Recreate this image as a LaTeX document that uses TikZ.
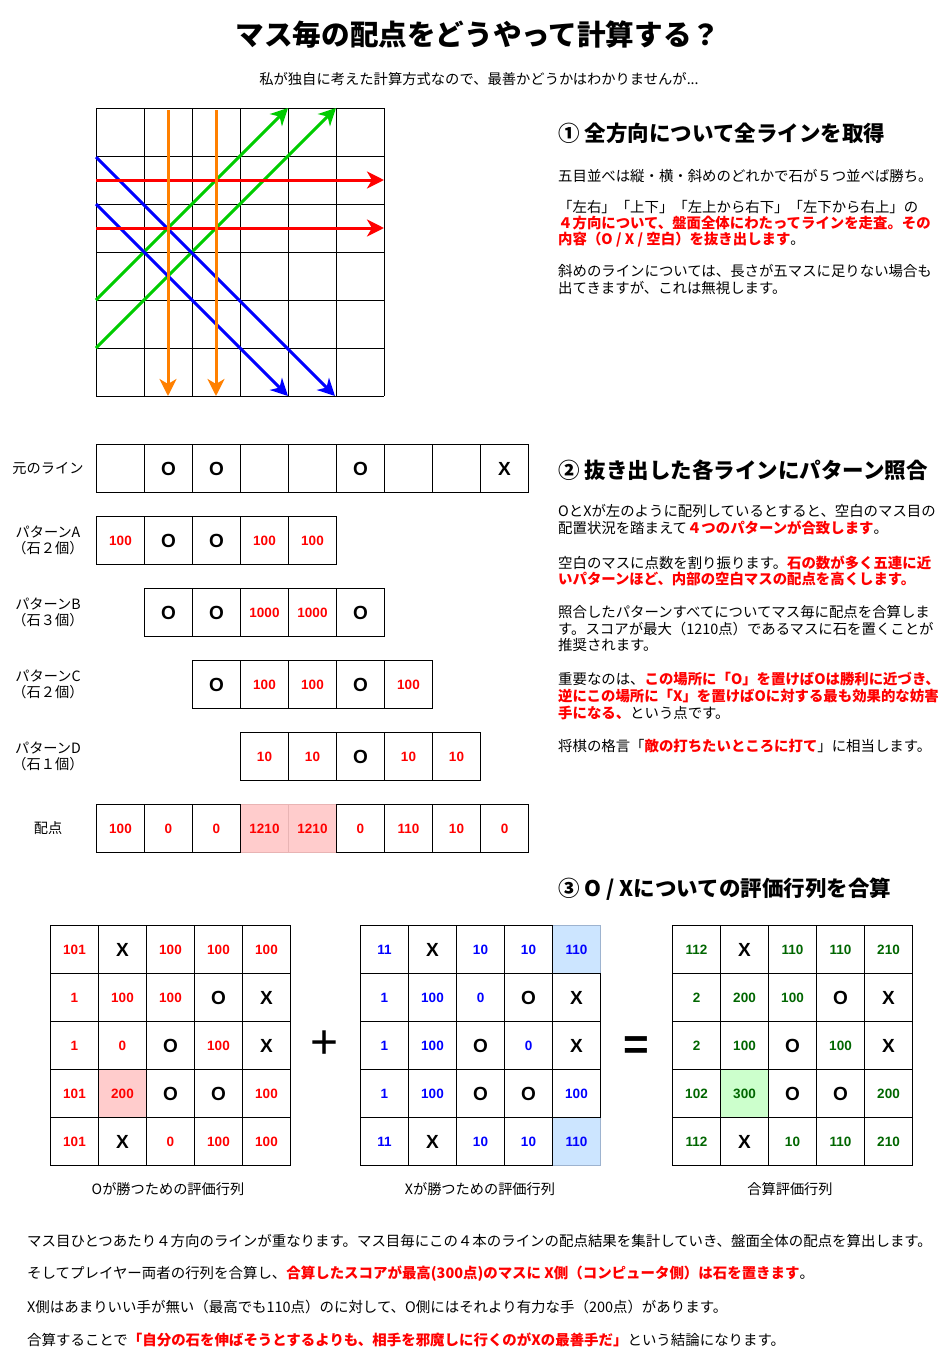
\documentclass[tikz,border=0pt]{standalone}
\usepackage{fontspec}
\setmainfont{Noto Sans CJK JP}
\newfontfamily\latf{Liberation Sans}
\usetikzlibrary{arrows.meta}
\definecolor{lred}{HTML}{FF0000}
\definecolor{lgreen}{HTML}{00CC00}
\definecolor{lblue}{HTML}{0000FF}
\definecolor{lorange}{HTML}{FF8000}
\definecolor{nblue}{HTML}{0000FF}
\definecolor{ngreen}{HTML}{006600}
\definecolor{pinkfill}{HTML}{FFCCCC}
\definecolor{pinkline}{HTML}{E8B4B4}
\definecolor{bluefill}{HTML}{CCE5FF}
\definecolor{blueline}{HTML}{9DB3CF}
\definecolor{greenfill}{HTML}{CCFFCC}
\definecolor{greenline}{HTML}{A6D6A6}
\newcommand\redb[1]{\textcolor{lred}{\bfseries #1}}
\tikzset{
  cell/.style={draw=black, line width=1pt, minimum width=48pt, minimum height=48pt, inner sep=0pt, anchor=north west},
  emp/.style={},
  stn/.style={font=\latf\bfseries\fontsize{19}{19}\selectfont},
  numr/.style={font=\latf\bfseries\fontsize{13.5}{13.5}\selectfont, text=lred},
  numb/.style={font=\latf\bfseries\fontsize{13.5}{13.5}\selectfont, text=nblue},
  numg/.style={font=\latf\bfseries\fontsize{13.5}{13.5}\selectfont, text=ngreen},
  numrh/.style={numr, draw=none},
  numbh/.style={numb, draw=none},
  numgh/.style={numg, draw=none},
  body/.style={anchor=west, inner sep=0pt, font=\fontsize{14.4}{16}\selectfont},
  foot/.style={anchor=west, inner sep=0pt, font=\fontsize{14.45}{16}\selectfont},
  head/.style={anchor=west, inner sep=0pt, font=\bfseries\fontsize{21.5}{26}\selectfont},
  rowlabel/.style={align=center, inner sep=0pt, font=\fontsize{14.2}{16}\selectfont},
  caption/.style={inner sep=0pt, font=\fontsize{14.2}{16}\selectfont},
  arr/.style={line width=3pt, -{Stealth[length=17pt,width=17pt,inset=5pt]}},
  gridline/.style={line width=1pt, draw=black},
  plussign/.style={inner sep=0pt, font=\latf\fontsize{48}{48}\selectfont},
  eqsign/.style={inner sep=0pt, font=\latf\bfseries\fontsize{44}{44}\selectfont},
}
\begin{document}
\begin{tikzpicture}[x=1pt,y=-1pt]
\path[use as bounding box, fill=white] (0,0) rectangle (950,1358);

% title
\node[font=\bfseries\fontsize{28.6}{32}\selectfont, inner sep=0pt] (title) at (478,35) {マス毎の配点をどうやって計算する？};
\node[font=\fontsize{14.3}{16}\selectfont, inner sep=0pt] (subtitle) at (479,79) {私が独自に考えた計算方式なので、最善かどうかはわかりませんが...};

% board grid
\foreach \i in {0,...,6} {
  \draw[gridline] ({96+48*\i},108) -- ({96+48*\i},396);
  \draw[gridline] (96,{108+48*\i}) -- (384,{108+48*\i});
}
\coordinate (gA1) at (96,300);  \coordinate (gA2) at (288,108);
\coordinate (gB1) at (96,348);  \coordinate (gB2) at (336,108);
\coordinate (bA1) at (96,157);  \coordinate (bA2) at (335,396);
\coordinate (bB1) at (96,204);  \coordinate (bB2) at (288,396);
\coordinate (rA1) at (96,180);  \coordinate (rA2) at (384,180);
\coordinate (rB1) at (96,228);  \coordinate (rB2) at (384,228);
\coordinate (oA1) at (168,110); \coordinate (oA2) at (168,396);
\coordinate (oB1) at (216,110); \coordinate (oB2) at (216,396);
\draw[arr, lgreen] (gA1) -- (gA2);
\draw[arr, lgreen] (gB1) -- (gB2);
\draw[arr, lblue] (bA1) -- (bA2);
\draw[arr, lblue] (bB1) -- (bB2);
\draw[arr, lred] (rA1) -- (rA2);
\draw[arr, lred] (rB1) -- (rB2);
\draw[arr, lorange] (oA1) -- (oA2);
\draw[arr, lorange] (oB1) -- (oB2);

% section 1
\node[head] (h1) at (558,133) {① 全方向について全ラインを取得};
\node[body] (t11) at (558,176) {五目並べは縦・横・斜めのどれかで石が５つ並べば勝ち。};
\node[body] (t12) at (558,207) {「左右」「上下」「左上から右下」「左下から右上」の};
\node[body] (t13) at (558,223) {\redb{４方向について、盤面全体にわたってラインを走査。その}};
\node[body] (t14) at (558,240) {\redb{内容（O / X / 空白）を抜き出します}。};
\node[body] (t15) at (558,271) {斜めのラインについては、長さが五マスに足りない場合も};
\node[body] (t16) at (558,288) {出てきますが、これは無視します。};

% section 2
\node[head] (h2) at (558,470) {② 抜き出した各ラインにパターン照合};
\node[body] (t21) at (558,511) {OとXが左のように配列しているとすると、空白のマス目の};
\node[body] (t22) at (558,528) {配置状況を踏まえて\redb{４つのパターンが合致します}。};
\node[body] (t23) at (558,563) {空白のマスに点数を割り振ります。\redb{石の数が多く五連に近}};
\node[body] (t24) at (558,579) {\redb{いパターンほど、内部の空白マスの配点を高くします。}};
\node[body] (t25) at (558,612) {照合したパターンすべてについてマス毎に配点を合算しま};
\node[body] (t26) at (558,629) {す。スコアが最大（1210点）であるマスに石を置くことが};
\node[body] (t27) at (558,645) {推奨されます。};
\node[body] (t28) at (558,679) {重要なのは、\redb{この場所に「O」を置けばOは勝利に近づき、}};
\node[body] (t29) at (558,696) {\redb{逆にこの場所に「X」を置けばOに対する最も効果的な妨害}};
\node[body] (t2a) at (558,713) {\redb{手になる、}という点です。};
\node[body] (t2b) at (558,746) {将棋の格言「\redb{敵の打ちたいところに打て}」に相当します。};

% section 3 heading
\node[head] (h3) at (558,889) {③ O / Xについての評価行列を合算};

% pattern rows
\node[rowlabel] (lo) at (48,468) {元のライン};
\node[rowlabel] (la) at (48,540) {パターンA\\（石２個）};
\node[rowlabel] (lb) at (48,612) {パターンB\\（石３個）};
\node[rowlabel] (lc) at (48,684) {パターンC\\（石２個）};
\node[rowlabel] (ld) at (48,756) {パターンD\\（石１個）};
\node[rowlabel] (ls) at (48,828) {配点};

\foreach \st/\tx [count=\c from 0] in {emp/{},stn/O,stn/O,emp/{},emp/{},stn/O,emp/{},emp/{},stn/X}
  \node[cell,\st] (orig-\c) at ({96+48*\c},444) {\tx};
\foreach \st/\tx [count=\c from 0] in {numr/100,stn/O,stn/O,numr/100,numr/100}
  \node[cell,\st] (pa-\c) at ({96+48*\c},516) {\tx};
\foreach \st/\tx [count=\c from 0] in {stn/O,stn/O,numr/1000,numr/1000,stn/O}
  \node[cell,\st] (pb-\c) at ({144+48*\c},588) {\tx};
\foreach \st/\tx [count=\c from 0] in {stn/O,numr/100,numr/100,stn/O,numr/100}
  \node[cell,\st] (pc-\c) at ({192+48*\c},660) {\tx};
\foreach \st/\tx [count=\c from 0] in {numr/10,numr/10,stn/O,numr/10,numr/10}
  \node[cell,\st] (pd-\c) at ({240+48*\c},732) {\tx};
\draw[draw=pinkline, fill=pinkfill, line width=1pt] (240,804) rectangle +(48,48);
\draw[draw=pinkline, fill=pinkfill, line width=1pt] (288,804) rectangle +(48,48);
\foreach \st/\tx [count=\c from 0] in {numr/100,numr/0,numr/0,numrh/1210,numrh/1210,numr/0,numr/110,numr/10,numr/0}
  \node[cell,\st] (ps-\c) at ({96+48*\c},804) {\tx};

% matrices
\draw[draw=pinkline, fill=pinkfill, line width=1pt] (98,1069) rectangle +(48,48);
\draw[draw=blueline, fill=bluefill, line width=1pt] (552,925) rectangle +(48,48);
\draw[draw=blueline, fill=bluefill, line width=1pt] (552,1117) rectangle +(48,48);
\draw[draw=greenline, fill=greenfill, line width=1pt] (720,1069) rectangle +(48,48);

\foreach \row [count=\r from 0] in {
  {numr/101,stn/X,numr/100,numr/100,numr/100},
  {numr/1,numr/100,numr/100,stn/O,stn/X},
  {numr/1,numr/0,stn/O,numr/100,stn/X},
  {numr/101,numrh/200,stn/O,stn/O,numr/100},
  {numr/101,stn/X,numr/0,numr/100,numr/100}}{
  \foreach \st/\tx [count=\c from 0] in \row
    \node[cell,\st] (ma-\r-\c) at ({50+48*\c},{925+48*\r}) {\tx};
}
\foreach \row [count=\r from 0] in {
  {numb/11,stn/X,numb/10,numb/10,numbh/110},
  {numb/1,numb/100,numb/0,stn/O,stn/X},
  {numb/1,numb/100,stn/O,numb/0,stn/X},
  {numb/1,numb/100,stn/O,stn/O,numb/100},
  {numb/11,stn/X,numb/10,numb/10,numbh/110}}{
  \foreach \st/\tx [count=\c from 0] in \row
    \node[cell,\st] (mb-\r-\c) at ({360+48*\c},{925+48*\r}) {\tx};
}
\foreach \row [count=\r from 0] in {
  {numg/112,stn/X,numg/110,numg/110,numg/210},
  {numg/2,numg/200,numg/100,stn/O,stn/X},
  {numg/2,numg/100,stn/O,numg/100,stn/X},
  {numg/102,numgh/300,stn/O,stn/O,numg/200},
  {numg/112,stn/X,numg/10,numg/110,numg/210}}{
  \foreach \st/\tx [count=\c from 0] in \row
    \node[cell,\st] (mc-\r-\c) at ({672+48*\c},{925+48*\r}) {\tx};
}
\node[plussign] (plus) at (325,1045) {+};
\node[eqsign] (eq) at (636,1048) {=};
\node[caption] (ca) at (168,1189) {Oが勝つための評価行列};
\node[caption] (cb) at (480,1189) {Xが勝つための評価行列};
\node[caption] (cc) at (790,1189) {合算評価行列};

% footer
\node[foot] (f1) at (27,1241) {マス目ひとつあたり４方向のラインが重なります。マス目毎にこの４本のラインの配点結果を集計していき、盤面全体の配点を算出します。};
\node[foot] (f2) at (27,1274) {そしてプレイヤー両者の行列を合算し、\redb{合算したスコアが最高(300点)のマスに X側（コンピュータ側）は石を置きます}。};
\node[foot] (f3) at (27,1307) {X側はあまりいい手が無い（最高でも110点）のに対して、O側にはそれより有力な手（200点）があります。};
\node[foot] (f4) at (27,1340) {合算することで\redb{「自分の石を伸ばそうとするよりも、相手を邪魔しに行くのがXの最善手だ」}という結論になります。};
\end{tikzpicture}
\end{document}
